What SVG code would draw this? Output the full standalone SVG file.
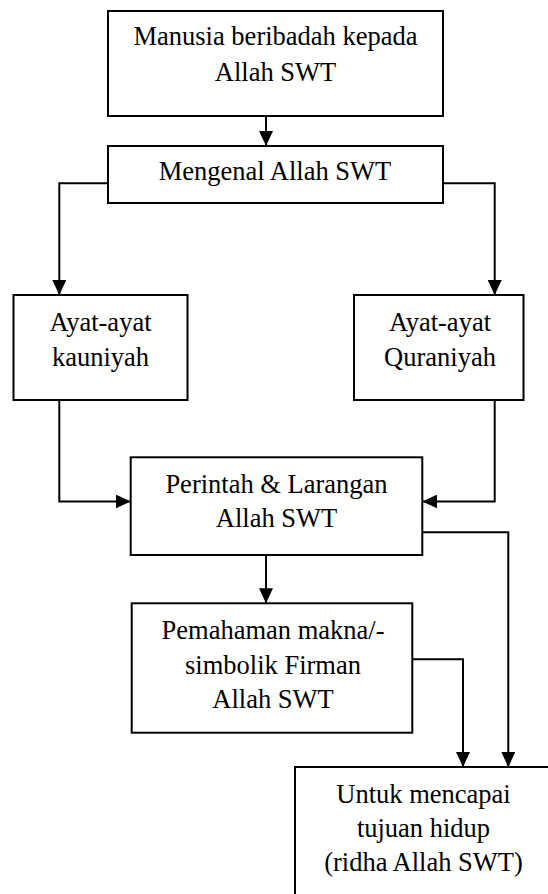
<svg xmlns="http://www.w3.org/2000/svg" width="548" height="894" viewBox="0 0 548 894">
<style>
.box{fill:#fff;stroke:#000;stroke-width:2}
.lbl{font-family:"Liberation Serif","Times New Roman",serif;font-size:26.5px;fill:#000;text-anchor:middle}
.con{fill:none;stroke:#000;stroke-width:2}
</style>
<defs>
<marker id="ah" viewBox="0 0 15 14" refX="15" refY="7" markerWidth="15" markerHeight="14" markerUnits="userSpaceOnUse" orient="auto">
<path d="M0,0 L15,7 L0,14 z" fill="#000"/>
</marker>
</defs>
<rect width="548" height="894" fill="#fff"/>
<g id="connectors">
<path class="con" d="M266,116 V146" marker-end="url(#ah)"/>
<path class="con" d="M108,183.3 H59.3 V295" marker-end="url(#ah)"/>
<path class="con" d="M443,183.3 H494.7 V295" marker-end="url(#ah)"/>
<path class="con" d="M59.3,400 V501.5 H130.7" marker-end="url(#ah)"/>
<path class="con" d="M494.7,400 V501.5 H422.3" marker-end="url(#ah)"/>
<path class="con" d="M422.3,532.3 H508.3 V767" marker-end="url(#ah)"/>
<path class="con" d="M266,555 V603.3" marker-end="url(#ah)"/>
<path class="con" d="M412.3,659.3 H463 V767" marker-end="url(#ah)"/>
</g>
<g id="n1">
<rect class="box" x="108" y="11" width="335" height="105"/>
<text class="lbl" x="275.5" y="45">Manusia beribadah kepada</text>
<text class="lbl" x="275.5" y="81">Allah SWT</text>
</g>
<g id="n2">
<rect class="box" x="108" y="146" width="335" height="57"/>
<text class="lbl" x="275" y="180">Mengenal Allah SWT</text>
</g>
<g id="n3">
<rect class="box" x="13.5" y="295" width="174" height="105"/>
<text class="lbl" x="100.5" y="331">Ayat-ayat</text>
<text class="lbl" x="100.5" y="366">kauniyah</text>
</g>
<g id="n4">
<rect class="box" x="354" y="295" width="169.5" height="105"/>
<text class="lbl" x="440" y="331">Ayat-ayat</text>
<text class="lbl" x="440" y="366">Quraniyah</text>
</g>
<g id="n5">
<rect class="box" x="130.7" y="457.3" width="291.6" height="97.7"/>
<text class="lbl" x="276.5" y="493">Perintah &amp; Larangan</text>
<text class="lbl" x="276.5" y="527">Allah SWT</text>
</g>
<g id="n6">
<rect class="box" x="131.7" y="603.3" width="280.6" height="129.4"/>
<text class="lbl" x="273" y="639">Pemahaman makna/-</text>
<text class="lbl" x="273" y="673.5">simbolik Firman</text>
<text class="lbl" x="273" y="708">Allah SWT</text>
</g>
<g id="n7">
<rect class="box" x="295" y="767" width="257" height="140"/>
<text class="lbl" x="423.5" y="802.5">Untuk mencapai</text>
<text class="lbl" x="423.5" y="836.5">tujuan hidup</text>
<text class="lbl" x="423.5" y="871">(ridha Allah SWT)</text>
</g>
</svg>
